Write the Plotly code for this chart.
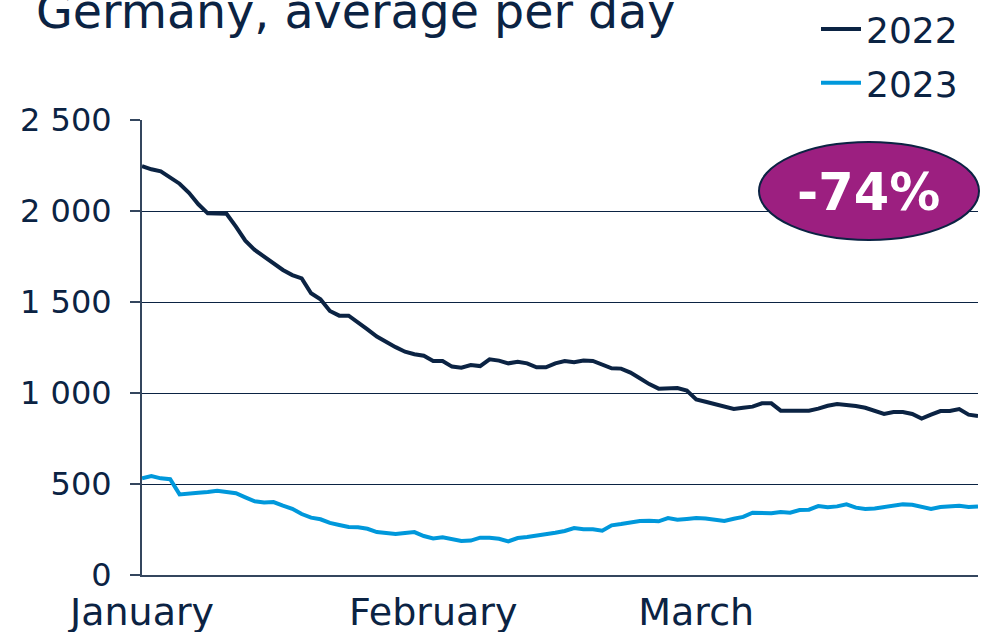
import pandas as pd
import plotly.graph_objects as go

# ---- data ----
dates = pd.date_range("2022-01-01", "2022-03-31", freq="D")

values_2022 = [
    2247, 2229, 2218, 2185, 2150, 2100, 2037, 1987, 1987, 1985,
    1914, 1837, 1786, 1750, 1712, 1676, 1648, 1630, 1548, 1515,
    1451, 1425, 1425, 1390, 1350, 1310, 1280, 1252, 1227, 1213,
    1205, 1176, 1176, 1145, 1139, 1154, 1148, 1185, 1178, 1163,
    1172, 1163, 1141, 1141, 1163, 1176, 1169, 1178, 1176, 1154,
    1136, 1134, 1112, 1081, 1049, 1024, 1027, 1027, 1013, 965,
    952, 940, 927, 912, 919, 925, 943, 943, 903, 903,
    900, 903, 914, 930, 940, 936, 928, 919, 903, 885,
    896, 896, 885, 859, 881, 901, 901, 912, 881, 874,
]

values_2023 = [
    531, 544, 531, 526, 443, 445, 452, 456, 463, 456,
    449, 427, 405, 399, 401, 381, 364, 335, 315, 306,
    286, 275, 264, 262, 254, 236, 229, 225, 231, 236,
    214, 201, 207, 196, 187, 189, 205, 205, 199, 185,
    203, 209, 216, 220, 232, 242, 258, 251, 251, 243,
    273, 280, 287, 297, 298, 295, 313, 304, 308, 313,
    311, 306, 297, 309, 319, 342, 339, 339, 346, 342,
    357, 359, 379, 372, 377, 388, 370, 363, 366, 374,
    383, 388, 386, 372, 363, 374, 379, 381, 374, 377,
]

month_ticks = ["2022-01-01", "2022-02-01", "2022-03-01"]
month_labels = ["January", "February", "March"]
y_ticks = [0, 500, 1000, 1500, 2000, 2500]
y_labels = ["0", "500", "1 000", "1 500", "2 000", "2 500"]
change_label = "-74%"

NAVY = "#0b2343"
BLUE = "#0098db"
PURPLE = "#9c1f80"
FONT = "Verdana, DejaVu Sans, sans-serif"

L, R, T, B = 142, 6, 120, 57
W, H = 984, 632
PW, PH = W - L - R, H - T - B


def px(xp):
    return (xp - L) / PW


def py(yp):
    return (H - B - yp) / PH


fig = go.Figure()
fig.add_trace(go.Scatter(x=dates, y=values_2022, mode="lines", name="2022",
                         line=dict(color=NAVY, width=4), legendgroup="a"))
fig.add_trace(go.Scatter(x=dates, y=values_2023, mode="lines", name="2023",
                         line=dict(color=BLUE, width=4), legendgroup="b"))

# percentage badge
fig.add_shape(type="circle", xref="paper", yref="paper",
              x0=px(759), x1=px(979), y0=py(240), y1=py(142),
              fillcolor=PURPLE, line=dict(color=NAVY, width=2), layer="above")
fig.add_annotation(text=f"<b>{change_label}</b>", xref="paper", yref="paper",
                   x=px(868), y=py(192), xanchor="center", yanchor="middle",
                   showarrow=False, font=dict(family=FONT, size=51, color="white"))

fig.update_layout(
    width=W, height=H,
    margin=dict(l=L, r=R, t=T, b=B, autoexpand=False),
    paper_bgcolor="white", plot_bgcolor="white",
    font=dict(family=FONT, color=NAVY),
    title=dict(text="Germany, average per day", x=36 / W, xanchor="left",
               xref="container", y=1 - 11 / H, yanchor="middle", yref="container",
               font=dict(size=47.5, color=NAVY, family=FONT)),
    legend=dict(x=px(816), y=py(-1), xanchor="left", yanchor="top",
                font=dict(size=36, color=NAVY, family=FONT),
                bgcolor="rgba(0,0,0,0)", tracegroupgap=4, itemwidth=40),
    showlegend=True,
)

fig.update_xaxes(
    range=["2022-01-01", "2022-03-31"],
    tickmode="array", tickvals=month_ticks, ticktext=month_labels,
    tickfont=dict(size=38, color=NAVY, family=FONT),
    showgrid=False, zeroline=False,
    showline=True, linecolor="#34465e", linewidth=2,
    ticks="", ticklabelstandoff=2,
)
fig.update_yaxes(
    range=[0, 2500],
    tickmode="array", tickvals=y_ticks, ticktext=y_labels,
    tickfont=dict(size=32, color=NAVY, family=FONT),
    showgrid=True, gridcolor=NAVY, gridwidth=1,
    zeroline=False,
    showline=True, linecolor="#34465e", linewidth=2,
    ticks="outside", ticklen=10, tickcolor="#34465e", tickwidth=2,
    ticklabelstandoff=12,
)

fig.write_html("out.html", config={"displayModeBar": False},
               post_script="document.body.style.margin='0';")
